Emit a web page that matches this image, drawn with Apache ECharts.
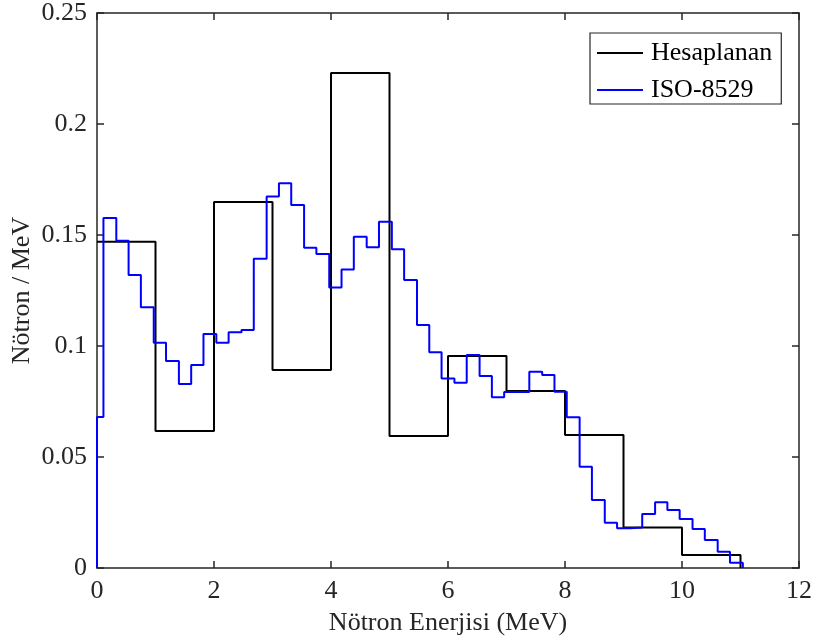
<!DOCTYPE html>
<html>
<head>
<meta charset="utf-8">
<script src="https://cdn.jsdelivr.net/npm/echarts@6/dist/echarts.min.js"></script>
<style>
  html, body { margin: 0; padding: 0; background: #ffffff; }
  #chart { width: 816px; height: 644px; }
</style>
</head>
<body>
<div id="chart"></div>
<script>
// Calculated spectrum: 1 MeV bins (lower edges) and values in neutrons / MeV
const calcEdges = [0, 1, 2, 3, 4, 5, 6, 7, 8, 9, 10, 11];
const calcValues = [0.147, 0.0617, 0.1649, 0.0892, 0.223, 0.0595, 0.0955, 0.0797, 0.0599, 0.0182, 0.0059];

// ISO-8529 Am-Be reference spectrum: bin edges (MeV) and values per MeV
const isoEdges = [0, 0.11, 0.33, 0.54, 0.75, 0.97, 1.18, 1.40, 1.61, 1.82, 2.04, 2.25, 2.47, 2.68, 2.90,
  3.11, 3.32, 3.54, 3.75, 3.97, 4.18, 4.39, 4.61, 4.82, 5.04, 5.25, 5.47, 5.68, 5.89, 6.11,
  6.32, 6.54, 6.75, 6.96, 7.18, 7.39, 7.61, 7.82, 8.03, 8.25, 8.46, 8.68, 8.89, 9.11, 9.32,
  9.54, 9.75, 9.96, 10.18, 10.39, 10.61, 10.82, 11.04];
const isoValues = [0.068, 0.1577, 0.1474, 0.132, 0.1174, 0.1015, 0.0932, 0.0829, 0.0914, 0.1054,
  0.1015, 0.1062, 0.1072, 0.1393, 0.1673, 0.1733, 0.1635, 0.1443, 0.1414, 0.1264,
  0.1345, 0.1492, 0.1445, 0.156, 0.1436, 0.1297, 0.1095, 0.0972, 0.0854, 0.0835,
  0.0959, 0.0865, 0.0769, 0.0793, 0.0793, 0.0884, 0.0869, 0.0794, 0.0679, 0.0456,
  0.0306, 0.0204, 0.0179, 0.0182, 0.0243, 0.0296, 0.0261, 0.0221, 0.0176, 0.0126,
  0.0073, 0.0024];

// Axis settings
const xTicks = [0, 2, 4, 6, 8, 10, 12];
const yTicks = [0, 0.05, 0.1, 0.15, 0.2, 0.25];

const xName = 'Nötron Enerjisi (MeV)';
const yName = 'Nötron / MeV';
const names = ['Hesaplanan', 'ISO-8529'];

// Histogram as step points: each value held from its lower edge to the next edge
function stepPoints(edges, values, startAtZero) {
  const pts = [];
  if (startAtZero) pts.push([edges[0], 0]);
  for (let i = 0; i < values.length; i++) pts.push([edges[i], values[i]]);
  pts.push([edges[values.length], 0]);
  return pts;
}

const FONT = '"Liberation Serif", "Times New Roman", serif';
const FS = 26;
const AX = '#262626';

const chart = echarts.init(document.getElementById('chart'), null, { renderer: 'canvas' });

const baseAxis = {
  axisLine: { show: true, onZero: false, lineStyle: { color: AX, width: 1.5 } },
  axisTick: { show: true, inside: true, length: 7, lineStyle: { color: AX, width: 1.5 } },
  splitLine: { show: false }
};

chart.setOption({
  animation: false,
  backgroundColor: '#ffffff',
  grid: { left: 97, right: 17, top: 13, bottom: 76, containLabel: false, outerBoundsMode: 'none' },
  legend: {
    data: names,
    orient: 'vertical',
    left: 590,
    top: 33,
    padding: [7, 9, 1, 7],
    itemGap: 11,
    itemWidth: 46,
    itemHeight: 2,
    icon: 'rect',
    borderColor: AX,
    borderWidth: 1.2,
    backgroundColor: '#ffffff',
    textStyle: { fontFamily: FONT, fontSize: FS, color: '#000000', padding: [0, 0, 0, 3], lineHeight: 26 }
  },
  xAxis: [
    Object.assign({}, baseAxis, {
      type: 'value', min: xTicks[0], max: xTicks[xTicks.length - 1], interval: 2,
      position: 'bottom',
      name: xName, nameLocation: 'middle', nameGap: 42, nameMoveOverlap: false,
      nameTextStyle: { fontFamily: FONT, fontSize: FS, color: AX },
      axisLabel: { fontFamily: FONT, fontSize: FS, color: AX, margin: 10 }
    }),
    Object.assign({}, baseAxis, {
      type: 'value', min: xTicks[0], max: xTicks[xTicks.length - 1], interval: 2,
      position: 'top', axisLabel: { show: false }
    })
  ],
  yAxis: [
    Object.assign({}, baseAxis, {
      type: 'value', min: yTicks[0], max: yTicks[yTicks.length - 1], interval: 0.05,
      position: 'left',
      name: yName, nameLocation: 'middle', nameGap: 62, nameMoveOverlap: false,
      nameTextStyle: { fontFamily: FONT, fontSize: FS, color: AX },
      axisLabel: { fontFamily: FONT, fontSize: FS, color: AX, margin: 10 }
    }),
    Object.assign({}, baseAxis, {
      type: 'value', min: yTicks[0], max: yTicks[yTicks.length - 1], interval: 0.05,
      position: 'right', axisLabel: { show: false }
    })
  ],
  series: [
    {
      name: names[0], type: 'line', step: 'end', showSymbol: false,
      xAxisIndex: 0, yAxisIndex: 0,
      data: stepPoints(calcEdges, calcValues, false),
      lineStyle: { color: '#000000', width: 2 },
      itemStyle: { color: '#000000' },
      z: 3
    },
    {
      name: names[1], type: 'line', step: 'end', showSymbol: false,
      xAxisIndex: 0, yAxisIndex: 0,
      data: stepPoints(isoEdges, isoValues, true),
      lineStyle: { color: '#0000ff', width: 2 },
      itemStyle: { color: '#0000ff' },
      z: 4
    }
  ]
});
</script>
</body>
</html>
